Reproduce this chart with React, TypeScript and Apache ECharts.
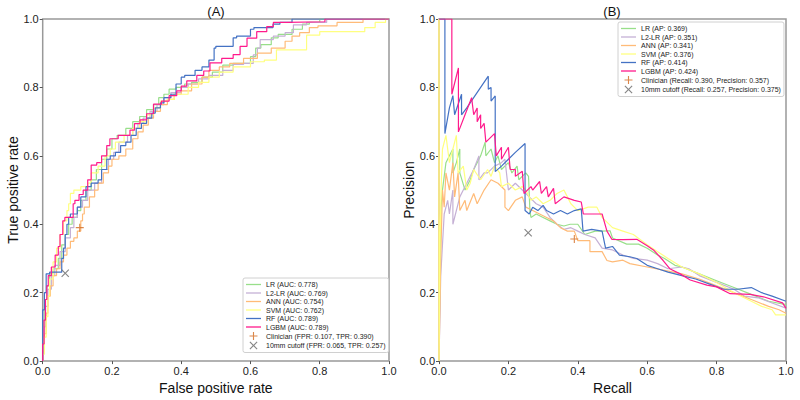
import React, { useEffect, useRef } from "react";
import * as echarts from "echarts";

const models = ["LR", "L2-LR", "ANN", "SVM", "RF", "LGBM"];
const colors = ["#98df8a", "#c5b0d5", "#ffbb78", "#ffff80", "#4472c4", "#ff1a8c"];
const aucValues = ["0.778", "0.769", "0.754", "0.762", "0.789", "0.789"];
const apValues = ["0.369", "0.351", "0.341", "0.376", "0.414", "0.424"];

const clinicianRoc = [0.107, 0.39];
const cutoffRoc = [0.065, 0.257];
const clinicianPr = [0.39, 0.357];
const cutoffPr = [0.257, 0.375];

const rocLR = [[0,0],[0.003,0.06],[0.006,0.12],[0.012,0.18],[0.02,0.22],[0.03,0.255],[0.045,0.27],[0.055,0.3],[0.065,0.34],[0.075,0.37],[0.085,0.4],[0.1,0.42],[0.11,0.44],[0.125,0.47],[0.14,0.5],[0.155,0.53],[0.17,0.56],[0.185,0.59],[0.2,0.62],[0.215,0.65],[0.24,0.66],[0.26,0.68],[0.28,0.7],[0.3,0.715],[0.32,0.735],[0.335,0.75],[0.35,0.77],[0.365,0.78],[0.385,0.795],[0.41,0.8],[0.43,0.81],[0.46,0.815],[0.49,0.83],[0.52,0.845],[0.55,0.865],[0.6,0.87],[0.615,0.89],[0.63,0.915],[0.66,0.925],[0.68,0.945],[0.72,0.955],[0.75,0.97],[0.77,0.985],[0.8,0.99],[0.8,1.0],[1,1]];
const rocL2 = [[0,0],[0.004,0.05],[0.008,0.1],[0.015,0.16],[0.025,0.21],[0.035,0.25],[0.05,0.28],[0.065,0.32],[0.08,0.36],[0.09,0.39],[0.1,0.42],[0.115,0.45],[0.13,0.47],[0.15,0.5],[0.17,0.52],[0.19,0.56],[0.205,0.59],[0.22,0.61],[0.245,0.64],[0.26,0.66],[0.275,0.68],[0.29,0.695],[0.31,0.71],[0.33,0.73],[0.35,0.75],[0.37,0.77],[0.4,0.785],[0.42,0.8],[0.45,0.81],[0.48,0.825],[0.52,0.835],[0.55,0.85],[0.58,0.867],[0.608,0.87],[0.62,0.895],[0.628,0.915],[0.666,0.94],[0.7,0.95],[0.724,0.96],[0.762,0.983],[0.82,0.99],[0.82,1.0],[1,1]];
const rocANN = [[0,0],[0.005,0.03],[0.01,0.08],[0.015,0.14],[0.022,0.19],[0.03,0.22],[0.04,0.25],[0.05,0.27],[0.06,0.29],[0.07,0.31],[0.08,0.33],[0.09,0.35],[0.1,0.36],[0.11,0.38],[0.115,0.41],[0.12,0.43],[0.135,0.45],[0.15,0.48],[0.16,0.5],[0.175,0.52],[0.19,0.55],[0.2,0.57],[0.22,0.59],[0.24,0.6],[0.26,0.62],[0.275,0.65],[0.29,0.67],[0.305,0.69],[0.32,0.71],[0.34,0.73],[0.36,0.75],[0.38,0.765],[0.4,0.78],[0.43,0.79],[0.46,0.81],[0.48,0.83],[0.51,0.85],[0.54,0.86],[0.58,0.87],[0.62,0.885],[0.66,0.9],[0.7,0.915],[0.72,0.935],[0.742,0.95],[0.77,0.96],[0.795,0.975],[0.85,0.98],[0.925,0.99],[0.925,1.0],[1,1]];
const rocSVM = [[0,0],[0.005,0.02],[0.01,0.07],[0.015,0.13],[0.02,0.19],[0.03,0.24],[0.04,0.29],[0.05,0.33],[0.06,0.37],[0.07,0.41],[0.075,0.44],[0.08,0.46],[0.09,0.49],[0.11,0.5],[0.13,0.51],[0.14,0.52],[0.16,0.55],[0.18,0.57],[0.195,0.6],[0.21,0.62],[0.235,0.64],[0.26,0.66],[0.28,0.68],[0.3,0.7],[0.32,0.72],[0.34,0.74],[0.36,0.76],[0.38,0.765],[0.42,0.78],[0.45,0.8],[0.48,0.815],[0.51,0.83],[0.55,0.845],[0.6,0.86],[0.64,0.875],[0.675,0.88],[0.675,0.905],[0.762,0.91],[0.762,0.948],[0.8,0.953],[0.93,0.963],[0.96,0.975],[0.99,0.99],[1,1]];
const rocRF = [[0,0],[0,0.1],[0.005,0.15],[0.01,0.2],[0.02,0.255],[0.055,0.26],[0.06,0.3],[0.065,0.33],[0.07,0.37],[0.075,0.4],[0.08,0.42],[0.1,0.43],[0.11,0.45],[0.125,0.48],[0.14,0.51],[0.16,0.52],[0.17,0.53],[0.185,0.56],[0.195,0.59],[0.21,0.6],[0.225,0.61],[0.24,0.63],[0.255,0.64],[0.27,0.66],[0.285,0.68],[0.3,0.695],[0.315,0.71],[0.325,0.725],[0.34,0.74],[0.35,0.755],[0.37,0.77],[0.385,0.78],[0.4,0.81],[0.41,0.83],[0.44,0.835],[0.46,0.85],[0.48,0.86],[0.495,0.88],[0.5,0.915],[0.55,0.92],[0.56,0.945],[0.6,0.95],[0.61,0.97],[0.665,0.975],[0.685,0.985],[0.72,0.99],[0.724,1.0],[1,1]];
const rocLGBM = [[0,0],[0.004,0.05],[0.008,0.12],[0.012,0.18],[0.016,0.22],[0.025,0.25],[0.036,0.275],[0.045,0.31],[0.05,0.335],[0.058,0.37],[0.064,0.41],[0.088,0.42],[0.093,0.46],[0.105,0.47],[0.117,0.487],[0.13,0.5],[0.14,0.53],[0.156,0.573],[0.17,0.58],[0.185,0.6],[0.194,0.63],[0.218,0.65],[0.252,0.66],[0.265,0.675],[0.281,0.694],[0.3,0.705],[0.32,0.723],[0.343,0.751],[0.365,0.76],[0.387,0.776],[0.4,0.79],[0.416,0.804],[0.445,0.819],[0.465,0.835],[0.483,0.848],[0.517,0.872],[0.55,0.885],[0.57,0.896],[0.59,0.92],[0.618,0.944],[0.647,0.963],[0.666,0.978],[0.705,0.99],[0.815,0.992],[0.815,1.0],[1,1]];

const prLR = [[0,1],[0,0],[0.003,0.3],[0.006,0.45],[0.01,0.5],[0.02,0.58],[0.03,0.6],[0.04,0.62],[0.04,0.55],[0.05,0.58],[0.06,0.62],[0.06,0.55],[0.075,0.5],[0.09,0.53],[0.1,0.56],[0.11,0.58],[0.12,0.6],[0.133,0.64],[0.135,0.6],[0.15,0.62],[0.16,0.58],[0.17,0.6],[0.18,0.56],[0.2,0.58],[0.21,0.55],[0.225,0.57],[0.23,0.53],[0.25,0.55],[0.258,0.54],[0.262,0.44],[0.265,0.42],[0.28,0.43],[0.3,0.42],[0.32,0.41],[0.34,0.4],[0.36,0.395],[0.378,0.4],[0.4,0.4],[0.42,0.37],[0.45,0.38],[0.47,0.38],[0.493,0.381],[0.5,0.36],[0.541,0.342],[0.575,0.342],[0.6,0.33],[0.63,0.31],[0.65,0.3],[0.68,0.28],[0.7,0.275],[0.75,0.255],[0.8,0.235],[0.85,0.215],[0.9,0.195],[0.95,0.175],[1.0,0.165]];
const prL2 = [[0,1],[0,0],[0.005,0.25],[0.015,0.43],[0.025,0.47],[0.03,0.43],[0.04,0.5],[0.04,0.4],[0.06,0.48],[0.07,0.5],[0.08,0.52],[0.09,0.54],[0.1,0.56],[0.115,0.6],[0.115,0.53],[0.13,0.55],[0.14,0.55],[0.16,0.57],[0.18,0.58],[0.19,0.59],[0.2,0.5],[0.22,0.52],[0.24,0.5],[0.26,0.48],[0.28,0.46],[0.3,0.45],[0.32,0.42],[0.34,0.4],[0.36,0.385],[0.38,0.39],[0.4,0.38],[0.42,0.37],[0.45,0.36],[0.47,0.33],[0.5,0.325],[0.53,0.31],[0.56,0.3],[0.6,0.295],[0.63,0.285],[0.66,0.27],[0.7,0.275],[0.72,0.27],[0.75,0.25],[0.8,0.23],[0.85,0.21],[0.88,0.19],[0.92,0.185],[0.96,0.17],[1.0,0.155]];
const prANN = [[0,1],[0,0],[0.005,0.3],[0.01,0.5],[0.015,0.45],[0.02,0.55],[0.03,0.5],[0.04,0.58],[0.045,0.48],[0.055,0.55],[0.06,0.44],[0.075,0.47],[0.08,0.44],[0.1,0.49],[0.11,0.46],[0.13,0.5],[0.15,0.53],[0.17,0.52],[0.19,0.5],[0.19,0.45],[0.2,0.44],[0.22,0.47],[0.24,0.48],[0.25,0.45],[0.27,0.44],[0.29,0.43],[0.31,0.42],[0.33,0.41],[0.35,0.39],[0.37,0.38],[0.39,0.38],[0.4,0.352],[0.435,0.352],[0.435,0.32],[0.47,0.32],[0.484,0.294],[0.5,0.29],[0.53,0.295],[0.55,0.285],[0.6,0.275],[0.65,0.265],[0.7,0.255],[0.75,0.24],[0.8,0.22],[0.85,0.2],[0.9,0.18],[0.95,0.16],[0.98,0.15],[1.0,0.14]];
const prSVM = [[0,1],[0,0],[0.003,0.35],[0.006,0.5],[0.01,0.62],[0.02,0.66],[0.03,0.58],[0.04,0.62],[0.05,0.66],[0.055,0.55],[0.07,0.57],[0.08,0.5],[0.09,0.52],[0.1,0.56],[0.12,0.53],[0.14,0.56],[0.15,0.54],[0.16,0.57],[0.175,0.55],[0.18,0.51],[0.2,0.52],[0.22,0.5],[0.24,0.51],[0.25,0.5],[0.265,0.47],[0.28,0.48],[0.3,0.46],[0.32,0.47],[0.34,0.49],[0.36,0.5],[0.37,0.48],[0.38,0.46],[0.4,0.44],[0.43,0.45],[0.455,0.45],[0.47,0.42],[0.5,0.39],[0.53,0.38],[0.56,0.37],[0.6,0.34],[0.63,0.32],[0.66,0.3],[0.7,0.275],[0.75,0.255],[0.8,0.23],[0.85,0.2],[0.9,0.175],[0.93,0.16],[0.96,0.15],[0.97,0.135],[1.0,0.135]];
const prRF = [[0,1],[0.017,1],[0.017,0.665],[0.03,0.74],[0.04,0.776],[0.045,0.72],[0.055,0.75],[0.065,0.78],[0.065,0.72],[0.08,0.74],[0.1,0.77],[0.12,0.8],[0.142,0.833],[0.142,0.795],[0.15,0.8],[0.15,0.76],[0.162,0.775],[0.162,0.554],[0.18,0.57],[0.2,0.59],[0.22,0.61],[0.248,0.636],[0.248,0.44],[0.26,0.43],[0.27,0.45],[0.285,0.44],[0.3,0.455],[0.31,0.44],[0.33,0.43],[0.35,0.44],[0.37,0.43],[0.39,0.44],[0.41,0.445],[0.415,0.38],[0.44,0.385],[0.47,0.38],[0.48,0.33],[0.5,0.335],[0.52,0.31],[0.55,0.305],[0.57,0.3],[0.6,0.28],[0.63,0.27],[0.66,0.26],[0.7,0.25],[0.74,0.24],[0.78,0.225],[0.82,0.21],[0.86,0.21],[0.9,0.215],[0.93,0.2],[0.96,0.19],[1.0,0.175]];
const prLGBM = [[0,1],[0.037,1],[0.037,0.78],[0.056,0.857],[0.056,0.67],[0.075,0.72],[0.094,0.77],[0.1,0.72],[0.11,0.74],[0.11,0.7],[0.12,0.72],[0.12,0.68],[0.13,0.695],[0.135,0.64],[0.16,0.665],[0.165,0.6],[0.18,0.625],[0.18,0.59],[0.2,0.625],[0.205,0.56],[0.22,0.56],[0.22,0.54],[0.24,0.555],[0.245,0.49],[0.265,0.51],[0.27,0.5],[0.29,0.525],[0.295,0.49],[0.31,0.51],[0.315,0.48],[0.33,0.505],[0.335,0.46],[0.36,0.48],[0.39,0.47],[0.41,0.465],[0.416,0.43],[0.445,0.43],[0.47,0.43],[0.484,0.38],[0.498,0.356],[0.53,0.355],[0.57,0.356],[0.6,0.337],[0.62,0.323],[0.646,0.294],[0.665,0.27],[0.695,0.255],[0.724,0.237],[0.772,0.222],[0.8,0.217],[0.839,0.197],[0.897,0.195],[0.935,0.188],[0.99,0.17],[1.0,0.154]];

const rocData = [rocLR, rocL2, rocANN, rocSVM, rocRF, rocLGBM];
const prData = [prLR, prL2, prANN, prSVM, prRF, prLGBM];

const LINE_ICON = "path://M0,0L15,0L15,1.3L0,1.3Z";
const PLUS_ICON = "path://M4.3,0H5.7V4.3H10V5.7H5.7V10H4.3V5.7H0V4.3H4.3Z";
const X_ICON = "path://M1,0L5,4L9,0L10,1L6,5L10,9L9,10L5,6L1,10L0,9L4,5L0,1Z";
const FONT = "Liberation Sans, Arial, sans-serif";

function axisCommon(gridIndex: number, name: string, isX: boolean) {
  return {
    type: "value",
    gridIndex,
    min: 0,
    max: 1,
    interval: 0.2,
    name,
    nameLocation: "middle",
    nameGap: isX ? 15 : 22,
    nameTextStyle: { fontSize: 14, color: "#111", fontFamily: FONT },
    axisLine: { show: false },
    axisTick: { show: true, length: 3, lineStyle: { color: "#555", width: 1 } },
    axisLabel: {
      fontSize: 11,
      color: "#222",
      fontFamily: FONT,
      margin: 4,
      formatter: (v: number) => v.toFixed(1),
    },
    splitLine: { show: false },
  };
}

export default function App() {
  const ref = useRef<HTMLDivElement>(null);
  useEffect(() => {
    if (!ref.current) return;
    const chart = echarts.init(ref.current, undefined, { renderer: "svg" });
    const rocNames = models.map((m, i) => `${m} (AUC: ${aucValues[i]})`);
    const prNames = models.map((m, i) => `${m} (AP: ${apValues[i]})`);
    const clinRocName = `Clinician (FPR: ${clinicianRoc[0].toFixed(3)}, TPR: ${clinicianRoc[1].toFixed(3)})`;
    const cutRocName = `10mm cutoff (FPR: ${cutoffRoc[0].toFixed(3)}, TPR: ${cutoffRoc[1].toFixed(3)})`;
    const clinPrName = `Clinician (Recall: ${clinicianPr[0].toFixed(3)}, Precision: ${clinicianPr[1].toFixed(3)})`;
    const cutPrName = `10mm cutoff (Recall: ${cutoffPr[0].toFixed(3)}, Precision: ${cutoffPr[1].toFixed(3)})`;

    const series: any[] = [];
    models.forEach((_, i) => {
      series.push({
        type: "line",
        name: rocNames[i],
        xAxisIndex: 0,
        yAxisIndex: 0,
        data: rocData[i],
        step: "start",
        symbol: "none",
        color: colors[i],
        lineStyle: { width: 1.2, color: colors[i] },
        z: 2 + i,
      });
    });
    models.forEach((_, i) => {
      series.push({
        type: "line",
        name: prNames[i],
        xAxisIndex: 1,
        yAxisIndex: 1,
        data: prData[i],
        symbol: "none",
        color: colors[i],
        lineStyle: { width: 1.2, color: colors[i] },
        z: 2 + i,
      });
    });
    const markerSeries = [
      { name: clinRocName, idx: 0, pt: clinicianRoc, icon: PLUS_ICON, color: "#d2691e" },
      { name: cutRocName, idx: 0, pt: cutoffRoc, icon: X_ICON, color: "#666666" },
      { name: clinPrName, idx: 1, pt: clinicianPr, icon: PLUS_ICON, color: "#d2691e" },
      { name: cutPrName, idx: 1, pt: cutoffPr, icon: X_ICON, color: "#666666" },
    ];
    markerSeries.forEach((m) => {
      series.push({
        type: "scatter",
        name: m.name,
        xAxisIndex: m.idx,
        yAxisIndex: m.idx,
        data: [m.pt],
        symbol: m.icon,
        symbolSize: 8,
        color: m.color,
        itemStyle: { color: m.color },
        z: 20,
      });
    });

    const legendCommon = {
      orient: "vertical",
      itemWidth: 15,
      itemHeight: 8,
      itemGap: 1.5,
      padding: [3, 3, 3, 3],
      backgroundColor: "rgba(255,255,255,0.8)",
      borderColor: "#d0d0d0",
      borderWidth: 1,
      borderRadius: 2,
      selectedMode: false,
      textStyle: { fontSize: 7, color: "#222", fontFamily: FONT },
    };

    chart.setOption({
      animation: false,
      textStyle: { fontFamily: FONT },
      grid: [
        { left: 42.7, right: 411, top: 19, bottom: 35, show: true, borderColor: "#999", borderWidth: 1.5, backgroundColor: "transparent" },
        { left: 439, right: 14, top: 19, bottom: 35, show: true, borderColor: "#999", borderWidth: 1.5, backgroundColor: "transparent" },
      ],
      xAxis: [axisCommon(0, "False positive rate", true), axisCommon(1, "Recall", true)],
      yAxis: [axisCommon(0, "True positive rate", false), axisCommon(1, "Precision", false)],
      legend: [
        {
          ...legendCommon,
          left: 243,
          top: 278,
          data: [
            ...rocNames.map((n) => ({ name: n, icon: LINE_ICON })),
            { name: clinRocName, icon: PLUS_ICON },
            { name: cutRocName, icon: X_ICON },
          ],
        },
        {
          ...legendCommon,
          left: 618,
          top: 22,
          data: [
            ...prNames.map((n) => ({ name: n, icon: LINE_ICON })),
            { name: clinPrName, icon: PLUS_ICON },
            { name: cutPrName, icon: X_ICON },
          ],
        },
      ],
      graphic: [
        { type: "text", x: 216, y: 11.5, style: { text: "(A)", font: `13px ${FONT}`, fill: "#111", align: "center", verticalAlign: "middle" } },
        { type: "text", x: 612, y: 11.5, style: { text: "(B)", font: `13px ${FONT}`, fill: "#111", align: "center", verticalAlign: "middle" } },
      ],
      series,
    });
    return () => chart.dispose();
  }, []);
  return (
    <div
      ref={ref}
      style={{ position: "fixed", left: 0, top: 0, width: 800, height: 400, background: "#fff" }}
    />
  );
}
